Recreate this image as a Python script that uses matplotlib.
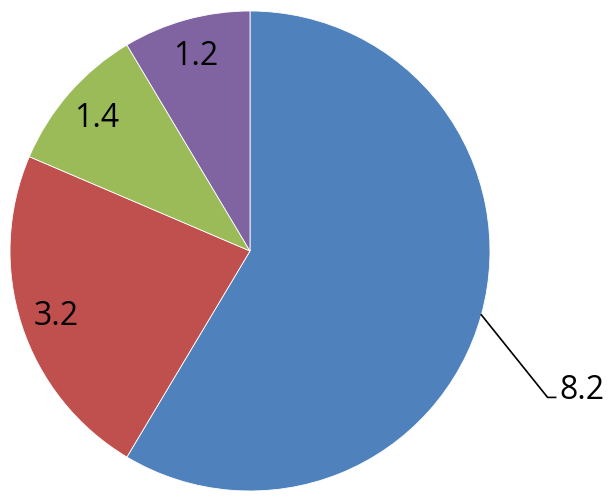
import matplotlib.pyplot as plt
import numpy as np

# valores das fatias (sentido horário a partir do topo)
valores = [8.2, 3.2, 1.4, 1.2]
rotulos = ['8.2', '3.2', '1.4', '1.2']
cores = ['#4F81BD', '#C0504D', '#9BBB59', '#8064A2']

fig = plt.figure(figsize=(6.15, 5.01), dpi=100)
ax = fig.add_axes([0, 0, 1, 1])

centro = (250, 250)
raio = 240

wedges, _ = ax.pie(valores, colors=cores, startangle=90, counterclock=False,
                   center=centro, radius=raio,
                   wedgeprops=dict(edgecolor='white', linewidth=0.6))

ax.set_xlim(0, 615)
ax.set_ylim(0, 501)
ax.set_aspect('equal')
ax.axis('off')

fonte = dict(fontsize=23, family='Open Sans', color='black')

for w, txt in zip(wedges, rotulos):
    ang = np.deg2rad((w.theta1 + w.theta2) / 2)
    if txt == '8.2':
        # rótulo externo com linha guia
        x0 = centro[0] + raio * np.cos(ang)
        y0 = centro[1] + raio * np.sin(ang)
        xq = centro[0] + raio * 1.24
        yq = centro[1] - raio * 0.61
        ax.plot([x0, xq, xq + 8], [y0, yq, yq], color='black', lw=1.2)
        ax.text(xq + 12, yq - 2, txt, ha='left', va='baseline', **fonte)
    else:
        ax.text(centro[0] + 0.85 * raio * np.cos(ang),
                centro[1] + 0.85 * raio * np.sin(ang) - 2,
                txt, ha='center', va='center', **fonte)

fig.savefig('out.png', dpi=100)
